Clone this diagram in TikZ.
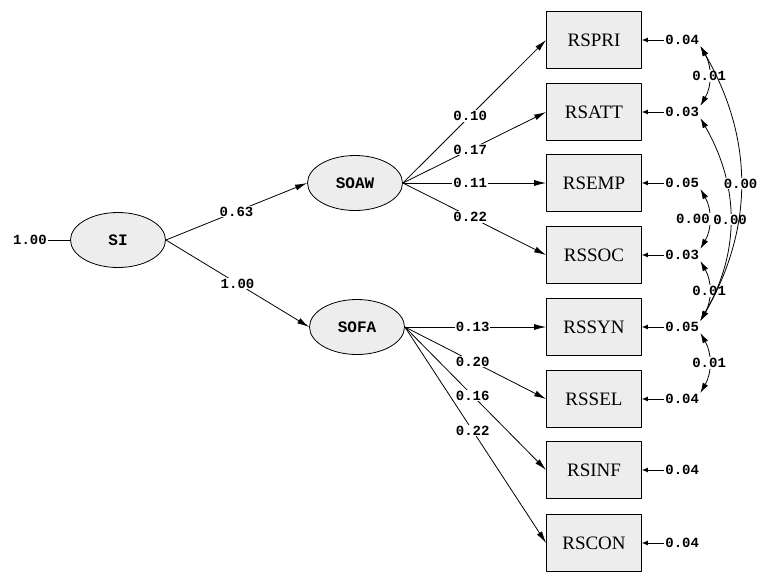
\documentclass[tikz,border=0pt]{standalone}
\usepackage{fontspec}
\setmainfont{Liberation Serif}
\newfontfamily\lisrel{Liberation Mono}
\usetikzlibrary{arrows.meta,shapes.geometric}

\begin{document}
\begin{tikzpicture}[x=1pt,y=-1pt,line width=0.8pt,line join=round]
  % Colors
  \colorlet{varfill}{black!7}

  % Styles
  \tikzstyle{observed}=[draw,fill=varfill,minimum width=95pt,minimum height=57pt,inner sep=0pt,font=\fontsize{19}{19}\selectfont]
  \tikzstyle{latent}=[draw,ellipse,fill=varfill,minimum width=95pt,minimum height=55pt,inner sep=0pt,font=\lisrel\bfseries\fontsize{16}{16}\selectfont]
  \tikzstyle{estimate}=[fill=white,inner sep=1pt,font=\lisrel\bfseries\fontsize{14}{14}\selectfont]
  \tikzstyle{residual}=[inner sep=1pt,anchor=west,font=\lisrel\bfseries\fontsize{14}{14}\selectfont]
  \tikzstyle{effect}=[-{Latex[length=12pt,width=6pt]}]
  \tikzstyle{errarrow}=[-{Latex[length=6pt,width=5pt]}]
  \tikzstyle{covar}=[{Latex[length=10pt,width=6pt]}-{Latex[length=10pt,width=6pt]},bend left=30]

  \useasboundingbox (0,0) rectangle (765,571);

  % Latent variables
  \node[latent] (SI) at (118,240) {SI};
  \node[latent] (SOAW) at (355,183) {SOAW};
  \node[latent] (SOFA) at (357,327) {SOFA};

  % Indicators with their error variances
  \foreach \ind/\y/\err in {RSPRI/40/0.04, RSATT/112/0.03, RSEMP/183/0.05, RSSOC/255/0.03,
                           RSSYN/327/0.05, RSSEL/399/0.04, RSINF/470/0.04, RSCON/543/0.04}
  {
    \node[observed] (\ind) at (594,\y) {\ind};
    \node[residual] (e\ind) at (664,\y) {\err};
    \draw[errarrow] (e\ind) -- (\ind);
  }

  % SI variance
  \node[residual,anchor=center] (eSI) at (30,240) {1.00};
  \draw (eSI) -- (SI);

  % Structural paths
  \draw[effect] (SI.east) -- node[estimate] {0.63} (SOAW.west);
  \draw[effect] (SI.east) -- node[estimate] {1.00} (SOFA.west);

  % Loadings
  \foreach \ind/\val in {RSPRI/0.10, RSATT/0.17, RSEMP/0.11, RSSOC/0.22}
    \draw[effect] (SOAW.east) -- node[estimate,pos=0.47] {\val} (\ind.west);
  \foreach \ind/\val in {RSSYN/0.13, RSSEL/0.20, RSINF/0.16, RSCON/0.22}
    \draw[effect] (SOFA.east) -- node[estimate,pos=0.48] {\val} (\ind.west);

  % Error covariances
  \draw[covar] (eRSPRI.south east) to node[estimate] {0.01} (eRSATT.north east);
  \draw[covar] (eRSEMP.south east) to node[estimate,anchor=east,xshift=2pt] {0.00} (eRSSOC.north east);
  \draw[covar] (eRSSOC.south east) to node[estimate] {0.01} (eRSSYN.north east);
  \draw[covar] (eRSSYN.south east) to node[estimate] {0.01} (eRSSEL.north east);
  \draw[covar] (eRSATT.south east) to node[estimate] {0.00} (eRSSYN.north east);
  \draw[covar] (eRSPRI.south east) to node[estimate] {0.00} (eRSSYN.north east);
\end{tikzpicture}
\end{document}
